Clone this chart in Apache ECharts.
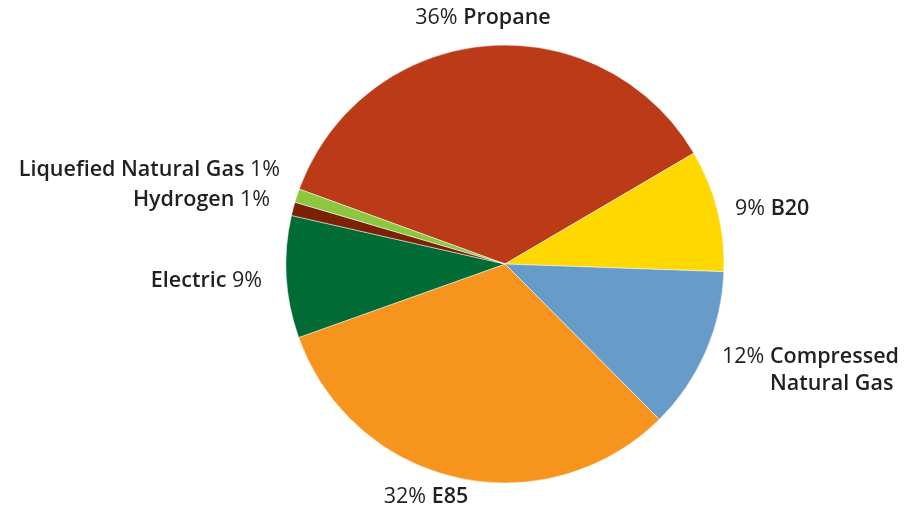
<!DOCTYPE html>
<html>
<head>
<meta charset="utf-8">
<script src="https://cdn.jsdelivr.net/npm/echarts@6/dist/echarts.min.js"></script>
<style>
  html, body { margin: 0; padding: 0; background: #fff; }
  #chart { width: 907px; height: 515px; }
</style>
</head>
<body>
<div id="chart"></div>
<script>
// Alternative fuel share by type (percent), listed clockwise from Propane
const fuels = ['Propane', 'B20', 'Compressed Natural Gas', 'E85', 'Electric', 'Hydrogen', 'Liquefied Natural Gas'];
const shares = [36, 9, 12, 32, 9, 1, 1];
const colors = ['#bb3a18', '#fed800', '#679cca', '#f7941e', '#006b35', '#7b2106', '#8dc63f'];

// Where each label sits and which side it is anchored on
const labelSpots = [
  { x: 483, y: 18,  align: 'center' },
  { x: 735, y: 209, align: 'left' },
  { x: 722, y: 370, align: 'left' },
  { x: 426, y: 497, align: 'center' },
  { x: 262, y: 281, align: 'right' },
  { x: 270, y: 200, align: 'right' },
  { x: 280, y: 170, align: 'right' }
];
// Labels that read "name pct" instead of "pct name"
const nameFirst = [false, false, false, false, true, true, true];

function labelText(i) {
  const pct = '{p|' + shares[i] + '%}';
  if (fuels[i] === 'Compressed Natural Gas') {
    return pct + ' {n|Compressed}\n{sp|}{n|Natural Gas}';
  }
  const name = '{n|' + fuels[i] + '}';
  return nameFirst[i] ? name + ' ' + pct : pct + ' ' + name;
}

const FONT = '"Open Sans", sans-serif';
const SIZE = 21.5;
const chart = echarts.init(document.getElementById('chart'));
chart.setOption({
  animation: false,
  series: [{
    type: 'pie',
    center: [505, 264],
    radius: 219,
    startAngle: 160,
    clockwise: true,
    avoidLabelOverlap: false,
    itemStyle: { borderColor: '#ffffff', borderWidth: 0.5 },
    labelLine: { show: false },
    label: {
      show: true,
      position: 'outside',
      formatter: p => labelText(p.dataIndex),
      color: '#231f20',
      fontFamily: FONT,
      fontSize: SIZE,
      rich: {
        p: { fontFamily: FONT, fontSize: SIZE, fontWeight: 400, color: '#231f20', lineHeight: 27 },
        n: { fontFamily: FONT, fontSize: SIZE, fontWeight: 600, color: '#231f20', lineHeight: 27 },
        sp: { width: 48, lineHeight: 27 }
      }
    },
    labelLayout: p => {
      const s = labelSpots[p.dataIndex];
      return { x: s.x, y: s.y, align: s.align, verticalAlign: 'middle' };
    },
    data: fuels.map((f, i) => ({ name: f, value: shares[i], itemStyle: { color: colors[i] } }))
  }]
});
</script>
</body>
</html>
